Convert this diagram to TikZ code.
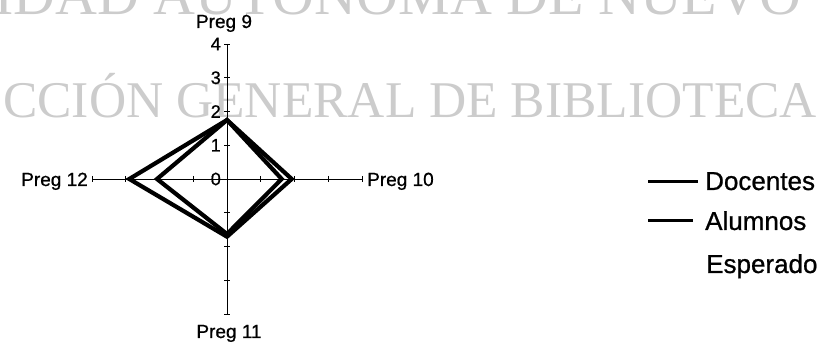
\documentclass[tikz,border=0pt]{standalone}
\usepackage{fontspec}
\setmainfont{Liberation Sans}[FakeBold=1.2]
\newfontfamily\chartfont{Liberation Sans}[FakeBold=0.8]
\newfontfamily\wmfont{Liberation Serif}
\usetikzlibrary{positioning}

\begin{document}
\begin{tikzpicture}[x=1pt,y=1pt,
  every node/.style={inner sep=0pt},
  watermark/.style={text=black!20,font=\wmfont\fontsize{51.5}{52}\selectfont,anchor=base west},
  axis/.style={black,line width=0.8pt},
  tick/.style={black,line width=0.6pt},
  ticklabel/.style={font=\chartfont\fontsize{18}{18}\selectfont,anchor=east},
  axislabel/.style={font=\chartfont\fontsize{19}{19}\selectfont},
  series/.style={black,line width=4.2pt,line join=miter},
  legendline/.style={black,line width=3pt},
  legendtext/.style={font=\chartfont\fontsize{26}{26}\selectfont,anchor=base west}]
\useasboundingbox (0,0) rectangle (823,-347);
\node [watermark,font=\wmfont\fontsize{58}{58}\selectfont] (wmtop) at (-6,-15) {IDAD AUTÓNOMA DE NUEVO};
\node [watermark] (wmbottom) at (3,-118) {CCIÓN GENERAL DE BIBLIOTECA};
\coordinate (O) at (227,-179);
\coordinate (p9) at (227,-44);
\coordinate (p10) at (362,-179);
\coordinate (p11) at (227,-314);
\coordinate (p12) at (92,-179);
\draw [axis] (p12) -- (p10);
\draw [axis] (p9) -- (p11);
\foreach \v in {1,2,3,4} {
  \draw [tick] (224,{-179+33.75*\v}) -- (230,{-179+33.75*\v});
  \draw [tick] (224,{-179-33.75*\v}) -- (230,{-179-33.75*\v});
  \draw [tick] ({227+33.75*\v},-176) -- ({227+33.75*\v},-182);
  \draw [tick] ({227-33.75*\v},-176) -- ({227-33.75*\v},-182);
}
\foreach \v in {0,...,4}
  \node [ticklabel] (t\v) at (221,{-179+33.75*\v}) {\v};
\node [axislabel,anchor=base] (preg9) at (224,-28) {Preg 9};
\node [axislabel,anchor=base west] (preg10) at (367,-186) {Preg 10};
\node [axislabel,anchor=base] (preg11) at (229,-338) {Preg 11};
\node [axislabel,anchor=base east] (preg12) at (88,-186) {Preg 12};
\coordinate (d9) at (227,-120);
\coordinate (d10) at (291.7,-179);
\coordinate (d11) at (227,-236.7);
\coordinate (d12) at (129.3,-179);
\draw [series] (d9) -- (d10) -- (d11) -- (d12) -- cycle;
\coordinate (a9) at (227,-120);
\coordinate (a10) at (281.7,-179);
\coordinate (a11) at (227,-234);
\coordinate (a12) at (157,-179);
\draw [series] (a9) -- (a10) -- (a11) -- (a12) -- cycle;
\node [legendtext] (docentes) at (705,-190) {Docentes};
\node [legendtext] (alumnos) at (705,-230) {Alumnos};
\node [legendtext] (esperado) at (706,-273) {Esperado};
\draw [legendline] ([xshift=-57pt]docentes.west) -- ([xshift=-7pt]docentes.west);
\draw [legendline] ([xshift=-57pt]alumnos.west) -- ([xshift=-12pt]alumnos.west);
\end{tikzpicture}
\end{document}
